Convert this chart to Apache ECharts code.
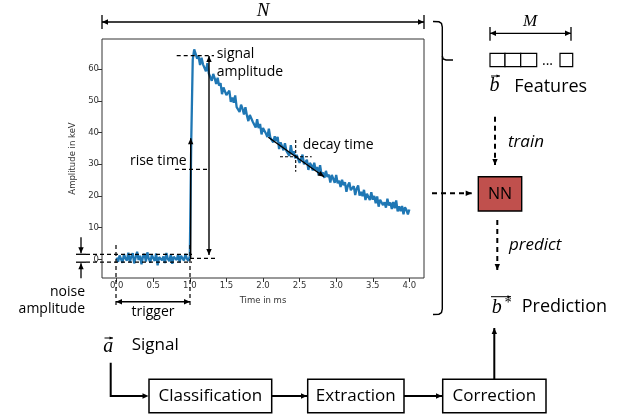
<!DOCTYPE html>
<html>
<head>
<meta charset="utf-8">
<script src="https://cdn.jsdelivr.net/npm/echarts@6/dist/echarts.min.js"></script>
<style>
html, body { margin: 0; padding: 0; background: #fff; }
#main { width: 619px; height: 415px; }
</style>
</head>
<body>
<div id="main"></div>
<script>
var sampleStep = 0.02;
var baseline = [
  0.5, -0.8, 1.2, 0.1, -1.1, 1.6, 0.3, -0.4, 2.1, -0.9,
  0.8, 1.9, -1.3, 0.6, 2.4, -0.2, 1.1, -1.6, 0.9, 1.7,
  -0.7, 2.2, 0.2, -1.0, 1.4, 0.4, -0.5, 1.8, -1.9, 0.7,
  1.3, -0.3, 0.9, -1.2, 2.0, 0.1, -0.6, 1.5, -1.4, 0.8,
  0.3, -0.2, 1.6, -0.9, 1.1, 0.5, -0.4, 1.7, 0.2, -0.5,
  0.9
];
var rising = [38.0, 63.0, 66.2];
var decay = [
  66.0, 63.3, 64.0, 61.3, 63.6, 61.5, 61.9, 59.3, 61.9, 58.6,
  59.0, 56.3, 58.5, 57.1, 55.3, 57.3, 54.8, 55.6, 52.1, 54.2,
  54.5, 51.8, 51.9, 53.2, 49.7, 51.0, 49.4, 51.7, 48.0, 48.6,
  46.5, 48.8, 47.5, 45.7, 48.0, 45.4, 43.6, 45.5, 45.5, 43.4,
  43.7, 41.6, 44.2, 41.4, 42.7, 39.4, 41.4, 41.8, 39.7, 38.6,
  41.2, 38.4, 38.9, 36.9, 38.8, 37.3, 38.6, 34.8, 36.9, 36.8,
  34.4, 36.6, 34.2, 34.7, 32.6, 36.0, 33.2, 34.1, 31.9, 32.9,
  33.4, 30.4, 31.7, 33.0, 30.0, 30.4, 31.4, 28.2, 30.4, 29.7,
  28.0, 30.5, 28.1, 29.1, 26.6, 29.7, 26.7, 27.4, 25.7, 27.9,
  26.0, 26.7, 24.2, 26.6, 25.4, 24.1, 26.6, 24.0, 24.8, 22.8,
  25.1, 23.4, 24.3, 21.3, 23.3, 24.2, 21.8, 22.2, 23.1, 20.3,
  22.3, 23.3, 20.1, 21.3, 19.9, 21.9, 18.7, 20.7, 20.1, 18.7,
  21.2, 18.8, 20.0, 17.7, 19.8, 16.6, 18.8, 19.4, 17.1, 18.0,
  16.3, 19.1, 17.0, 17.9, 15.9, 18.1, 16.1, 18.6, 15.1, 16.7,
  15.2, 16.8, 14.2, 16.4, 15.6, 14.2, 15.7
];
var xTicks = [0, 0.5, 1.0, 1.5, 2.0, 2.5, 3.0, 3.5, 4.0];
var yTicks = [0, 10, 20, 30, 40, 50, 60];

var chart = echarts.init(document.getElementById('main'));

var signal = baseline.concat(rising, decay);
var seriesData = signal.map(function(v, i) {
  return [Math.round(i * sampleStep * 100) / 100, v];
});

// ---- drawing helpers for the diagram around the chart ----
var els = [];
var INK = '#000';
function line(x1, y1, x2, y2, w, dash) {
  els.push({ type: 'line', z: 100, shape: { x1: x1, y1: y1, x2: x2, y2: y2 },
    style: { stroke: INK, lineWidth: w || 1.5, lineDash: dash || null } });
}
function head(x, y, ang, size) { // tip at x,y
  var L = size || 6, W = L * 0.45;
  var bx = x - L * Math.cos(ang), by = y - L * Math.sin(ang);
  var px = -Math.sin(ang) * W, py = Math.cos(ang) * W;
  els.push({ type: 'polygon', z: 101, shape: { points: [[x, y], [bx + px, by + py], [bx - px, by - py]] },
    style: { fill: INK } });
}
function arrow(x1, y1, x2, y2, opt) {
  opt = opt || {};
  var ang = Math.atan2(y2 - y1, x2 - x1);
  line(x1, y1, x2, y2, opt.w, opt.dash);
  head(x2, y2, ang, opt.size);
  if (opt.both) head(x1, y1, ang + Math.PI, opt.size);
}
function text(x, y, s, opt) {
  opt = opt || {};
  els.push({ type: 'text', z: 102, x: x, y: y, rotation: opt.rot || 0,
    style: { text: s, fill: opt.color || INK,
      fontSize: opt.size || 14, fontFamily: opt.family || 'Open Sans',
      fontStyle: opt.italic ? 'italic' : 'normal',
      align: opt.align || 'left', verticalAlign: 'middle',
      textAlign: opt.align || 'left', textVerticalAlign: 'middle' } });
}
function box(x, y, w, h, fill, lw) {
  els.push({ type: 'rect', z: 100, shape: { x: x, y: y, width: w, height: h },
    style: { fill: fill || '#fff', stroke: INK, lineWidth: lw || 1.5 } });
}
var DASH = [4, 3];
var BIGDASH = [5, 4];

// N span over the trace
line(102, 22, 424, 22, 1.3);
head(102, 22, Math.PI, 6); head(424, 22, 0, 6);
line(102, 15, 102, 29, 1.3); line(424, 15, 424, 29, 1.3);
text(263, 11, 'N', { family: 'Liberation Serif', italic: true, size: 19, align: 'center' });

// signal amplitude
line(176.7, 55.7, 214, 55.7, 1.2, DASH);
arrow(209, 255, 209, 56, { both: true, w: 1.4 });
line(190, 258.3, 215, 258.3, 1.2, DASH);
text(216.7, 54, 'signal');
text(216.7, 72.3, 'amplitude');

// rise time
line(175, 169.3, 207, 169.3, 1.2, DASH);
arrow(190.7, 258, 190.7, 138.3, { w: 1.4 });
text(186.7, 160.7, 'rise time', { align: 'right' });

// decay time
line(280, 156.7, 311.7, 156.7, 1.1, [3, 2]);
line(295.7, 140, 295.7, 171.7, 1.1, [3, 2]);
arrow(268.3, 137.3, 324, 176.7, { w: 1.4 });
text(302.7, 145, 'decay time');

// noise amplitude
line(76, 254.3, 86, 254.3, 1.3); line(86, 254.3, 192, 254.3, 1.2, DASH);
line(76, 262.2, 86, 262.2, 1.3); line(86, 262.2, 192, 262.2, 1.2, DASH);
arrow(81, 237.3, 81, 253.3, { w: 1.3 });
arrow(81, 278.3, 81, 263.2, { w: 1.3 });
text(85, 292, 'noise', { align: 'right' });
text(85, 309, 'amplitude', { align: 'right' });

// trigger
line(116, 245, 116, 305, 1.2, DASH);
line(190, 245, 190, 305, 1.2, DASH);
arrow(116, 301.7, 190, 301.7, { both: true, w: 1.4 });
text(153, 312.5, 'trigger', { align: 'center' });

// brace
els.push({ type: 'polyline', z: 100, shape: { points: [[433, 21.5], [439, 21.8], [441.5, 23.5], [442.3, 27], [442.3, 309], [441.5, 312.5], [439, 314.2], [433, 314.5]] },
  style: { stroke: INK, lineWidth: 1.4, fill: null } });
els.push({ type: 'polyline', z: 100, shape: { points: [[442.3, 56], [443.2, 59], [446, 60], [453, 60]] },
  style: { stroke: INK, lineWidth: 1.4, fill: null } });

// feature vector
text(530, 22, 'M', { family: 'Liberation Serif', italic: true, size: 17, align: 'center' });
line(490, 33.3, 571, 33.3, 1.3);
head(490, 33.3, Math.PI, 6); head(571, 33.3, 0, 6);
line(490, 27, 490, 40.7, 1.3); line(571, 27, 571, 40.7, 1.3);
box(490, 53.3, 15, 13.4, '#fff', 1.2);
box(505, 53.3, 15.7, 13.4, '#fff', 1.2);
box(520.7, 53.3, 16, 13.4, '#fff', 1.2);
box(560, 53.3, 12.7, 13.4, '#fff', 1.2);
text(547.5, 61, '...', { align: 'center', size: 14 });
text(494.5, 86, 'b', { family: 'Liberation Serif', italic: true, size: 20, align: 'center' });
arrow(491, 76, 500, 76, { w: 1, size: 3.5 });
text(514.3, 87, 'Features', { size: 18 });

// NN
arrow(495, 116.7, 495, 165, { w: 2, dash: BIGDASH, size: 6 });
text(508, 141.7, 'train', { italic: true, size: 17 });
box(478.3, 176.7, 43.4, 34.3, '#c0504d', 1.4);
text(500, 194, 'NN', { size: 16, align: 'center' });
arrow(432, 193.3, 471.7, 193.3, { w: 2, dash: BIGDASH, size: 6 });
arrow(497.3, 220, 497.3, 270, { w: 2, dash: BIGDASH, size: 6 });
text(509, 245, 'predict', { italic: true, size: 17 });

// prediction
text(496.7, 308, 'b', { family: 'Liberation Serif', italic: true, size: 20, align: 'center' });
text(504, 303, '*', { family: 'Liberation Serif', italic: true, size: 14 });
arrow(491, 296.7, 511, 296.7, { w: 1, size: 3.5 });
text(521.7, 307, 'Prediction', { size: 18 });

// processing chain
text(108.3, 347, 'a', { family: 'Liberation Serif', italic: true, size: 20, align: 'center' });
arrow(104.5, 338, 113, 338, { w: 1, size: 3.5 });
text(131.7, 345, 'Signal', { size: 17 });
els.push({ type: 'polyline', z: 100, shape: { points: [[110.7, 362.7], [110.7, 396], [143, 396]] },
  style: { stroke: INK, lineWidth: 2, fill: null } });
head(148.5, 396, 0, 6);
box(149, 379.3, 122.7, 33.4);
text(210.3, 396, 'Classification', { size: 17, align: 'center' });
arrow(271.7, 396, 307, 396, { w: 2 });
box(307.7, 379.3, 96.3, 33.4);
text(355.8, 396, 'Extraction', { size: 17, align: 'center' });
arrow(404, 396, 442, 396, { w: 2 });
box(442.7, 379.3, 103.3, 33.4);
text(494.3, 396, 'Correction', { size: 17, align: 'center' });
arrow(494.3, 379.3, 494.3, 328, { w: 2 });

var tickFont = { fontFamily: 'DejaVu Sans', fontSize: 8.5, color: '#333' };

var option = {
  animation: false,
  backgroundColor: '#fff',
  grid: { left: 102, top: 39, right: 195, bottom: 137, show: true, borderColor: '#333', borderWidth: 1 },
  xAxis: {
    type: 'value', min: -0.2, max: 4.2,
    axisLine: { show: false, onZero: false },
    splitLine: { show: false },
    axisTick: { show: true, customValues: xTicks, length: 4, lineStyle: { color: '#333' } },
    axisLabel: Object.assign({ customValues: xTicks, margin: 3, formatter: function(v) { return v.toFixed(1); } }, tickFont),
    name: 'Time in ms', nameLocation: 'middle', nameGap: 18,
    nameTextStyle: tickFont
  },
  yAxis: {
    type: 'value', min: -5.9, max: 69.5,
    axisLine: { show: false, onZero: false },
    splitLine: { show: false },
    axisTick: { show: true, customValues: yTicks, length: 4, lineStyle: { color: '#333' } },
    axisLabel: Object.assign({ customValues: yTicks, margin: 3 }, tickFont),
    name: 'Amplitude in keV', nameLocation: 'middle', nameGap: 20,
    nameTextStyle: tickFont
  },
  series: [{
    type: 'line',
    data: seriesData,
    symbol: 'none',
    lineStyle: { color: '#1f77b4', width: 2.3 },
    z: 2
  }],
  graphic: els
};
chart.setOption(option);
</script>
</body>
</html>
